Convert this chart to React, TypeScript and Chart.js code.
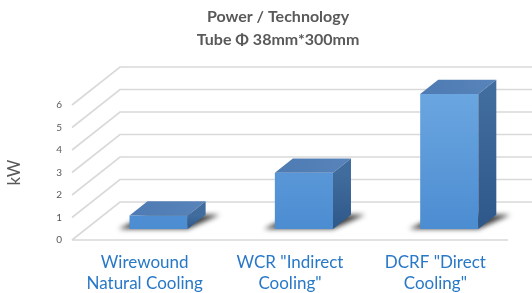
import React, { useEffect, useRef } from 'react';
import { Chart, registerables } from 'chart.js';

Chart.register(...registerables);

// ---- data ----
const categories: string[][] = [
  ['Wirewound', 'Natural Cooling'],
  ['WCR "Indirect', 'Cooling"'],
  ['DCRF "Direct', 'Cooling"'],
];
const powerKW: number[] = [0.6, 2.5, 6];
const yTickValues: number[] = [0, 1, 2, 3, 4, 5, 6];
const titleLines: string[] = ['Power / Technology', 'Tube Φ 38mm*300mm'];
const yAxisTitle = 'kW';

// ---- 3D look (style) ----
const DEPTH_DX = 48;
const DEPTH_DY = -38;
const BAR_FRONT = 0.29;
const BAR_BACK = 0.665;
const GRID_COLOR = '#D9D9D9';
const TEXT_GRAY = '#595959';
const LABEL_BLUE = '#2878C8';
const FONT = 'Lato, "Open Sans", "Liberation Sans", sans-serif';

const threeD = {
  id: 'threeD',
  beforeDatasetsDraw(chart: any) {
    const { ctx, chartArea, scales } = chart;
    const { left, right } = chartArea;
    const y = scales.y;
    ctx.save();
    ctx.strokeStyle = GRID_COLOR;
    ctx.lineWidth = 1.6;
    for (const v of yTickValues) {
      const py = y.getPixelForValue(v);
      ctx.beginPath();
      ctx.moveTo(left, py);
      ctx.lineTo(left + DEPTH_DX, py + DEPTH_DY);
      ctx.lineTo(right + DEPTH_DX, py + DEPTH_DY);
      ctx.stroke();
    }
    const p0 = y.getPixelForValue(0);
    ctx.beginPath();
    ctx.moveTo(left, p0);
    ctx.lineTo(right, p0);
    ctx.stroke();

    // soft shadows on the floor
    const meta = chart.getDatasetMeta(0);
    const fx = DEPTH_DX * BAR_FRONT, fy = DEPTH_DY * BAR_FRONT;
    const bx = DEPTH_DX * BAR_BACK, by = DEPTH_DY * BAR_BACK;
    ctx.filter = 'blur(2.5px)';
    ctx.fillStyle = 'rgba(0,0,0,0.75)';
    meta.data.forEach((bar: any) => {
      const { x, base, width } = bar.getProps(['x', 'base', 'width'], true);
      const x1 = x - width / 2, x2 = x + width / 2;
      ctx.beginPath();
      ctx.moveTo(x1 + fx - 11, base + fy);
      ctx.lineTo(x2 + fx, base + fy);
      ctx.lineTo(x2 + bx + 14, base + by);
      ctx.lineTo(x1 + bx, base + by);
      ctx.closePath();
      ctx.fill();
    });
    ctx.restore();

    ctx.save();
    ctx.translate(fx, fy);
  },
  afterDatasetsDraw(chart: any) {
    const { ctx } = chart;
    ctx.restore();
    const meta = chart.getDatasetMeta(0);
    const fx = DEPTH_DX * BAR_FRONT, fy = DEPTH_DY * BAR_FRONT;
    const bx = DEPTH_DX * BAR_BACK, by = DEPTH_DY * BAR_BACK;
    ctx.save();
    meta.data.forEach((bar: any) => {
      const { x, y, base, width } = bar.getProps(['x', 'y', 'base', 'width'], true);
      const x1 = x - width / 2, x2 = x + width / 2;
      // top face
      const tg = ctx.createLinearGradient(x1 + fx, 0, x2 + bx, 0);
      tg.addColorStop(0, '#4E7BB3');
      tg.addColorStop(1, '#5883BB');
      ctx.fillStyle = tg;
      ctx.beginPath();
      ctx.moveTo(x1 + fx, y + fy);
      ctx.lineTo(x2 + fx, y + fy);
      ctx.lineTo(x2 + bx, y + by);
      ctx.lineTo(x1 + bx, y + by);
      ctx.closePath();
      ctx.fill();
      // side face
      const sg = ctx.createLinearGradient(0, y + fy, 0, base + fy);
      sg.addColorStop(0, '#416C9E');
      sg.addColorStop(1, '#2E5889');
      ctx.fillStyle = sg;
      ctx.beginPath();
      ctx.moveTo(x2 + fx, y + fy);
      ctx.lineTo(x2 + bx, y + by);
      ctx.lineTo(x2 + bx, base + by);
      ctx.lineTo(x2 + fx, base + fy);
      ctx.closePath();
      ctx.fill();
    });
    ctx.restore();
  },
};

export default function App() {
  const ref = useRef<HTMLCanvasElement | null>(null);
  useEffect(() => {
    if (!ref.current) return;
    const chart = new Chart(ref.current, {
      type: 'bar',
      data: {
        labels: categories,
        datasets: [
          {
            data: powerKW,
            clip: false as any,
            barPercentage: 0.4,
            categoryPercentage: 1,
            borderWidth: 0,
            backgroundColor: (c: any) => {
              const ch = c.chart;
              if (!ch.chartArea) return '#5B9BD5';
              const g = ch.ctx.createLinearGradient(0, ch.chartArea.top, 0, ch.chartArea.bottom);
              g.addColorStop(0, '#6AA6E0');
              g.addColorStop(1, '#4C8CD1');
              return g;
            },
          },
        ],
      },
      options: {
        responsive: false,
        animation: false,
        layout: { padding: { left: 48, right: 24, top: 0, bottom: 0 } },
        plugins: {
          legend: { display: false },
          tooltip: { enabled: false },
          title: {
            display: true,
            text: titleLines,
            color: TEXT_GRAY,
            font: { family: FONT, size: 16, weight: 'bold', lineHeight: 1.45 },
            padding: { top: 5.4, bottom: 53.2 },
          },
        },
        scales: {
          x: {
            grid: { display: false, drawTicks: false },
            border: { display: false },
            ticks: {
              color: LABEL_BLUE,
              font: { family: FONT, size: 17, lineHeight: 1.235 },
              padding: 12.5,
              maxRotation: 0,
              autoSkip: false,
            },
            afterFit: (s: any) => { s.height = 53; },
          },
          y: {
            min: 0,
            max: 6,
            grid: { display: false, drawTicks: false },
            border: { display: false },
            ticks: {
              stepSize: 1,
              color: TEXT_GRAY,
              font: { family: FONT, size: 10 },
              padding: 10,
            },
            title: {
              display: true,
              text: yAxisTitle,
              color: TEXT_GRAY,
              font: { family: FONT, size: 17, lineHeight: 1.2 },
              padding: { top: -43.2, bottom: 0 },
            },
            afterFit: (s: any) => { s.width = 24; },
          },
        },
      },
      plugins: [threeD],
    });
    return () => chart.destroy();
  }, []);
  return (
    <canvas
      ref={ref}
      width={532}
      height={293}
      style={{ position: 'absolute', left: 0, top: 0, display: 'block' }}
    />
  );
}
